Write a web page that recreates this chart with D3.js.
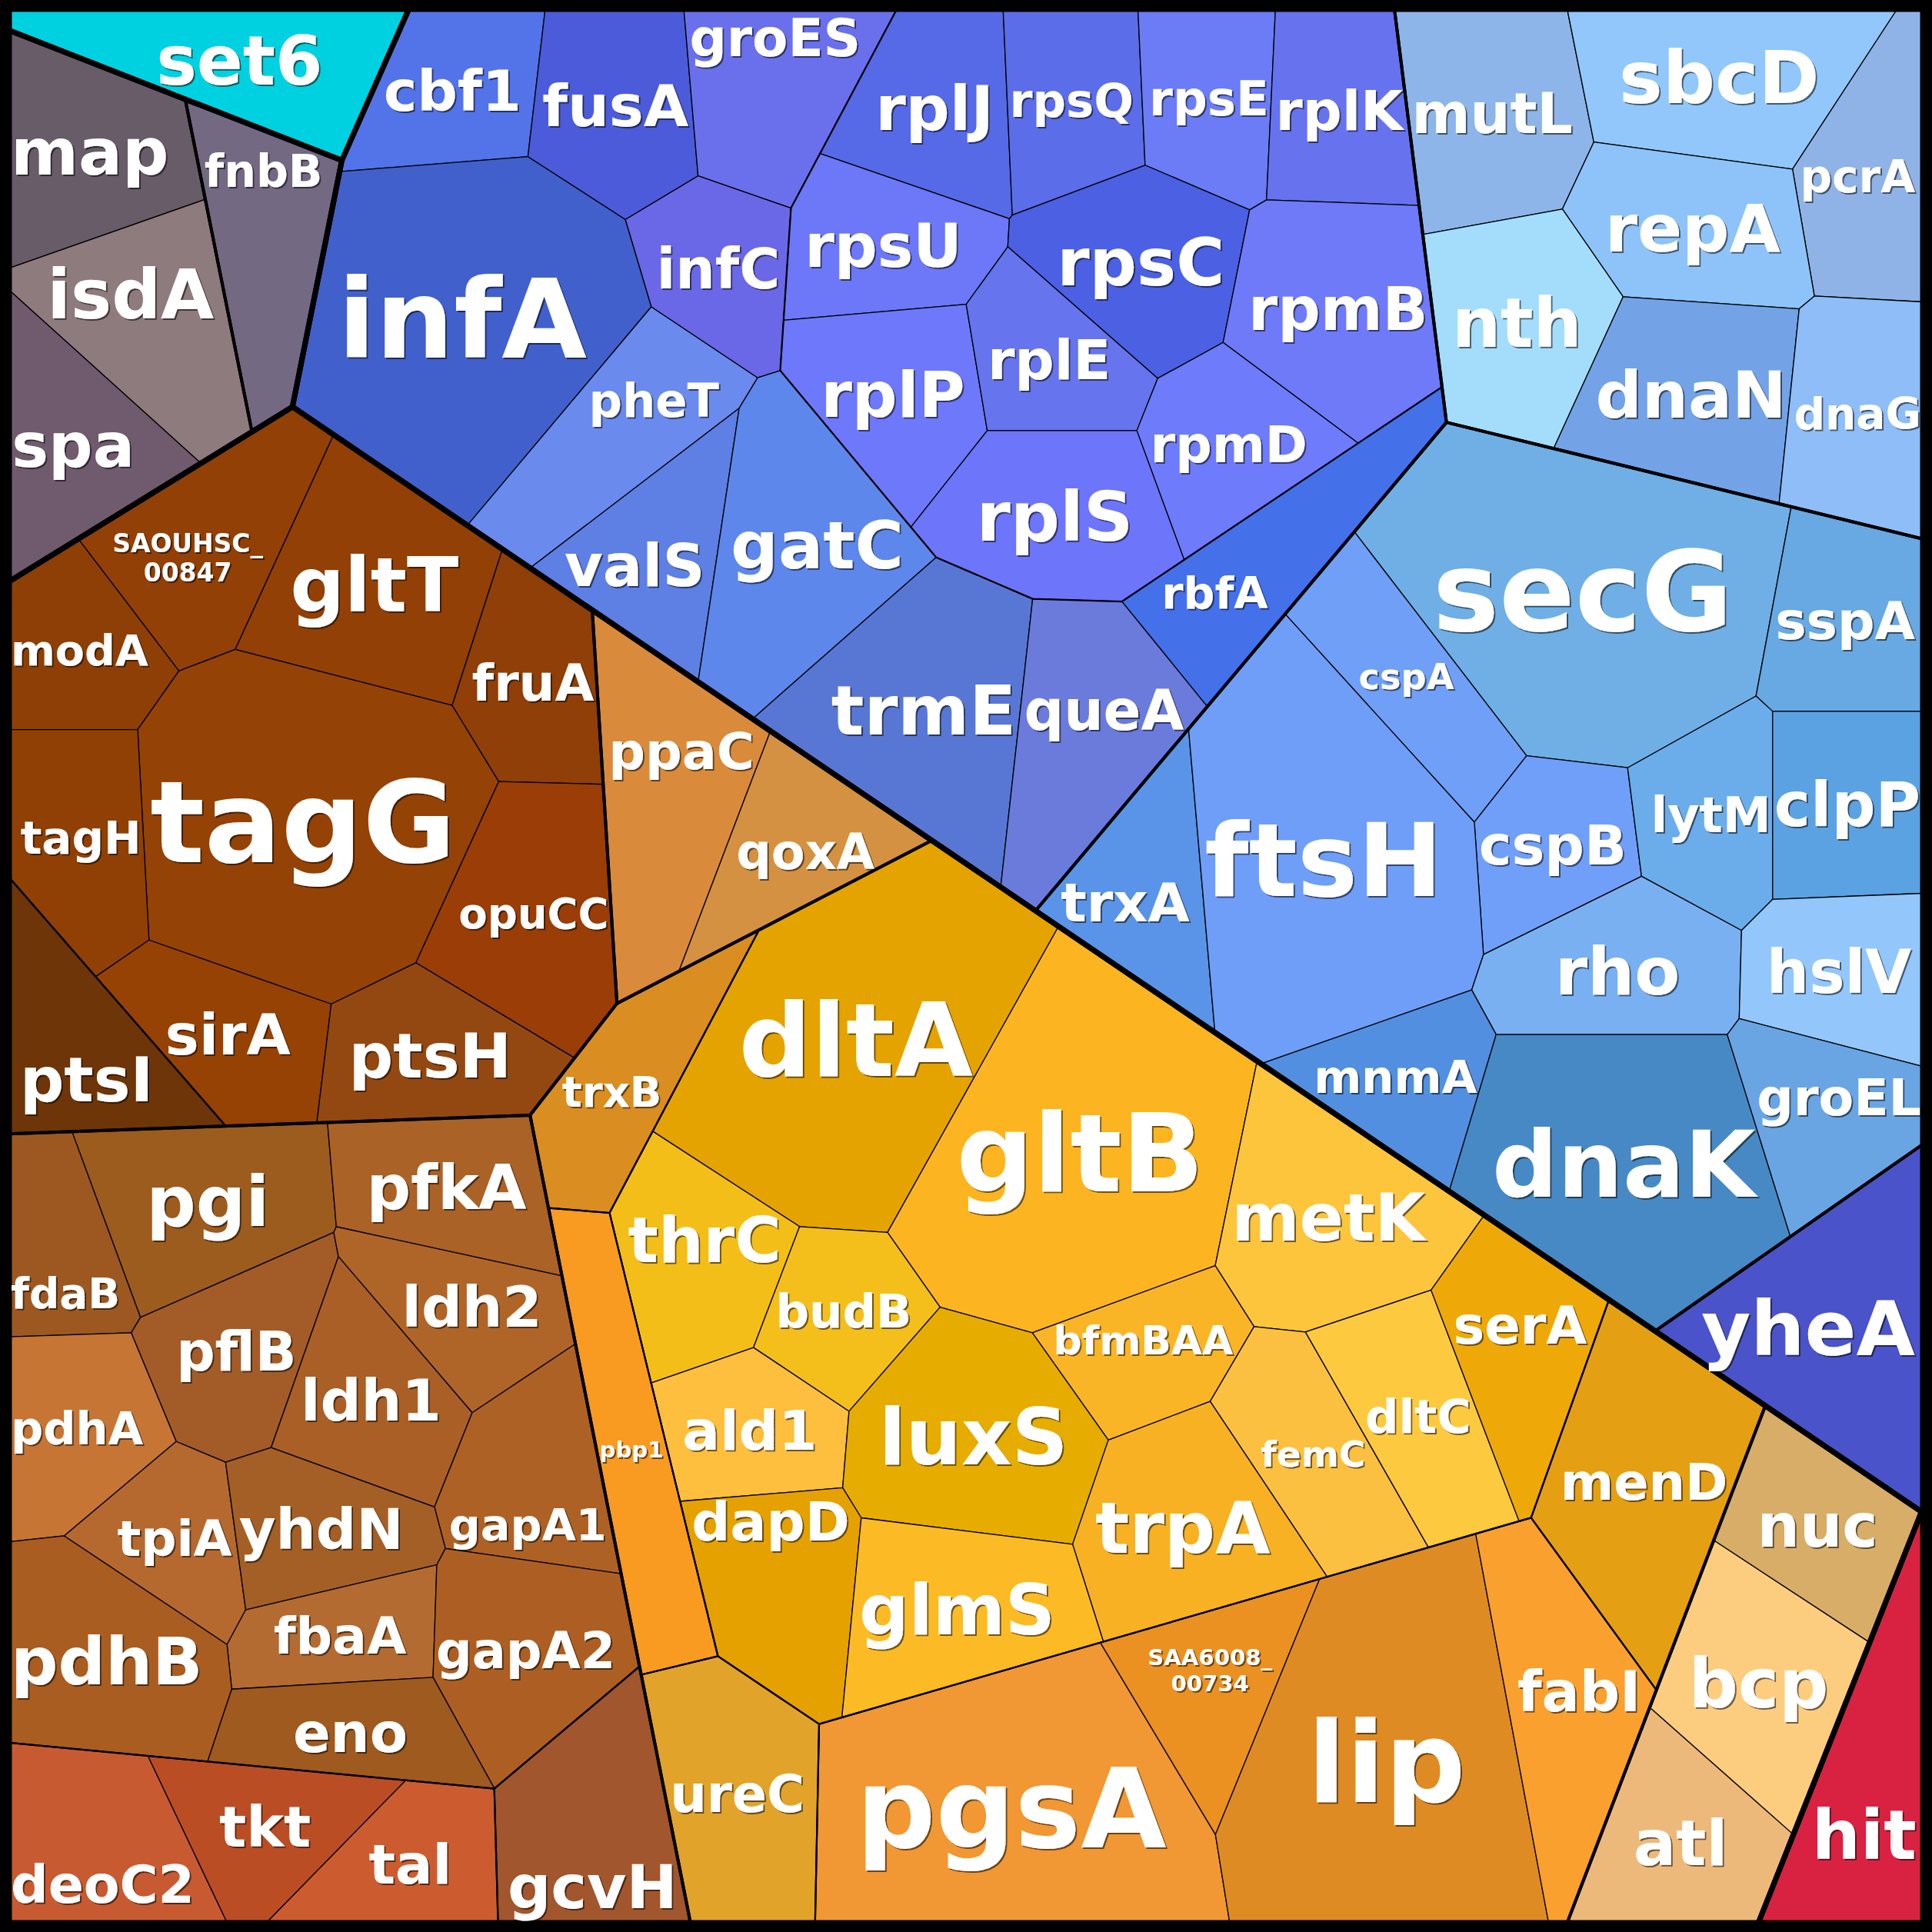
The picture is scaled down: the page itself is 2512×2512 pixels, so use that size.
<!DOCTYPE html>
<html lang="en">
<head>
<meta charset="utf-8">
<style>
  body { margin: 0; background: #fff; }
  text { font-family: "DejaVu Sans", sans-serif; font-weight: bold; }
</style>
</head>
<body>
<script src="https://d3js.org/d3.v7.min.js"></script>
<script>
var width = 2512, height = 2512;
var frame = 12;

// ---- data ----
var names = ["set6","map","fnbB","isdA","spa",
  "cbf1","fusA","groES","infC","infA",
  "rplJ","rpsQ","rpsE","rplK","rpsU","rpsC","rpmB","rplP","rplE","rpmD","rplS",
  "pheT","valS","gatC","trmE","queA","rbfA",
  "mutL","sbcD","pcrA","repA","nth","dnaN","dnaG",
  "secG","sspA","cspA","cspB","lytM","clpP","trxA","ftsH","rho","hslV","mnmA","dnaK","groEL",
  "yheA",
  "SAOUHSC_00847","gltT","modA","fruA","tagG","tagH","opuCC","ptsI","sirA","ptsH",
  "ppaC","qoxA",
  "pgi","pfkA","fdaB","pflB","ldh2","ldh1","pdhA","gapA1","tpiA","yhdN","fbaA","gapA2","pdhB","eno",
  "deoC2","tkt","tal","gcvH",
  "trxB","dltA","gltB","metK","thrC","budB","bfmBAA","ald1","luxS","dltC","serA","femC","trpA","dapD","glmS",
  "pbp1","ureC","pgsA","SAA6008_00734","lip","fabI","menD",
  "nuc","bcp","atl","hit"];

var parents = ["set6","gray/main","gray/fnbB","gray/main","gray/main",
  "blue/purple","blue/purple","blue/purple","blue/purple","blue/purple",
  "blue/purple/ribo","blue/purple/ribo","blue/purple/ribo","blue/purple/ribo","blue/purple/ribo","blue/purple/ribo",
  "blue/purple/ribo","blue/purple/ribo","blue/purple/ribo","blue/purple/ribo","blue/purple/ribo",
  "blue/purple","blue/purple","blue/purple","blue/purple","blue/purple","blue/purple",
  "blue/light","blue/light","blue/light","blue/light","blue/light","blue/light","blue/light",
  "blue/mid","blue/mid","blue/mid","blue/mid","blue/mid","blue/mid","blue/mid","blue/mid","blue/mid","blue/mid","blue/mid","blue/mid","blue/mid",
  "blue/yheA",
  "brown/dark/main","brown/dark/main","brown/dark/main","brown/dark/main","brown/dark/main","brown/dark/main","brown/dark/main",
  "brown/dark/ptsI","brown/dark/main","brown/dark/main",
  "brown/ppa","brown/ppa",
  "brown/lb/upper","brown/lb/upper","brown/lb/upper","brown/lb/upper","brown/lb/upper","brown/lb/upper","brown/lb/upper",
  "brown/lb/upper","brown/lb/upper","brown/lb/upper","brown/lb/upper","brown/lb/upper","brown/lb/upper","brown/lb/upper",
  "brown/lb/ppp","brown/lb/ppp","brown/lb/ppp","brown/lb/gcvH",
  "brown/orange/trxB","brown/orange/yellow","brown/orange/yellow","brown/orange/yellow","brown/orange/yellow","brown/orange/yellow",
  "brown/orange/yellow","brown/orange/yellow","brown/orange/yellow","brown/orange/yellow","brown/orange/yellow","brown/orange/yellow",
  "brown/orange/yellow","brown/orange/yellow","brown/orange/yellow",
  "brown/orange/pbp1","brown/orange/ureC","brown/orange/lower","brown/orange/lower","brown/orange/lower","brown/orange/lower","brown/orange/menD",
  "brown/misc","brown/misc","brown/misc","hit"];

var values = [22.1,20.6,18.6,22.6,18.3,
  16.4,18.8,18.8,14.8,57.9,
  18.1,16.0,15.3,17.2,17.3,20.9,25.8,19.2,14.6,16.8,22.8,
  20.1,16.6,29.4,32.8,24.3,20.2,
  23.8,25.7,18.3,20.8,22.3,23.8,19.5,
  64.8,18.7,17.4,15.2,16.1,18.2,16.8,59.3,20.9,17.1,15.3,46.1,16.8,
  32.3,
  21.5,27.6,15.1,16.5,61.9,18.4,24.7,18.2,17.2,18.4,
  25.9,16.0,
  23.0,18.3,13.2,17.6,15.4,17.6,17.1,17.7,13.1,15.3,12.5,21.9,24.8,14.6,
  20.1,15.3,14.7,22.7,
  17.1,59.9,60.9,28.0,19.2,14.0,14.4,14.7,29.3,18.2,18.5,17.8,24.2,19.9,23.1,
  21.0,24.1,58.7,16.2,61.1,24.5,31.7,
  17.1,22.9,19.1,22.3];

var colors = ["#00d1e0","#675c67","#736983","#8e7b7d","#705a6d",
  "#5373e9","#4b5bd9","#6a70ec","#6a68e6","#4160cb",
  "#5669e7","#5b6de9","#6b7cf6","#6772ee","#6c78f7","#4c60e3","#6e7af8","#6e78fb","#6674ee","#6e7bfa","#6d75fa",
  "#6a8aed","#5e7fe3","#5d87eb","#5877d5","#6a7bdc","#4470ea",
  "#8db5e9","#91c7fb","#8fb3e7","#8ec3f9","#a3ddfb","#73a2e7","#8ebdf7",
  "#6fafe5","#68a8e3","#6f9ff7","#709ff9","#6badea","#5ba2e3","#5994e8","#6f9ef8","#79b0f1","#93c7fb","#528fe0","#4789c5","#6aa5e3",
  "#4a53c9",
  "#924005","#924005","#8e3f05","#8f3f07","#944205","#904005","#9a3d07","#6e3508","#964205","#934812",
  "#d98a3b","#d49141",
  "#9b5c1e","#aa6227","#9d5821","#a35c27","#b06528","#a95f25","#c67535","#ae6124","#b5692f","#a35f25","#b46b31","#ad5f23","#a95d21","#9e5a1f",
  "#c85a31","#bb4d25","#cc5c2f","#a1562d",
  "#da8d21","#e5a300","#fcb520","#fdc53b","#f4be18","#f4be1b","#fab526","#fdbf3d","#e6ad00","#fdc93e","#eea909","#fcc040","#f7b122","#e5a100","#fcbb25",
  "#f99b21","#e2a32b","#f19733","#ea9121","#df8b23","#f9a02f","#e59f13",
  "#d7ad67","#fdcd7f","#edb97b","#d92241"];

// start sites of the layout, in 1568 px preview units of the reference
var seedX = [150,80,218,133,58,
  370,498,615,570,385,
  760,872,981,1088,720,922,1082,730,850,1000,850,
  480,545,645,755,890,1050,
  1210,1385,1515,1370,1240,1360,1505,
  1280,1495,1150,1258,1375,1495,925,1040,1310,1500,1110,1310,1470,
  1490,
  170,290,65,430,250,65,425,55,185,350,
  540,645,
  150,385,55,205,360,290,60,440,140,250,270,420,80,275,
  75,204,300,470,
  490,695,865,1085,575,680,920,620,800,1135,1240,1065,975,630,785,
  512,600,810,985,1120,1280,1330,
  1490,1410,1310,1515];
var seedY = [45,125,225,276,359,
  70,85,75,205,260,
  90,85,80,85,206,218,250,320,300,360,415,
  340,425,440,565,580,450,
  100,65,150,175,265,320,335,
  480,520,580,665,650,650,690,680,770,775,880,940,890,
  1075,
  450,505,530,550,660,670,740,819,845,865,
  650,690,
  975,955,1010,1100,1070,1130,1160,1190,1255,1240,1325,1330,1345,1410,
  1495,1420,1530,1485,
  900,850,945,990,1035,1075,1095,1165,1180,1140,1100,1180,1240,1285,1300,
  1170,1460,1470,1365,1420,1390,1200,
  1240,1362,1475,1450];

// group sites chosen so their bisectors run the way the reference boundaries do
var groupSeeds = {
  "set6": [170, 90], "gray": [91, 292], "blue": [1069, 488], "brown": [620, 1150], "hit": [1512, 1504],
  "blue/purple": [700, 280], "blue/light": [1367, 196], "blue/mid": [1236, 731], "blue/yheA": [1476, 1075],
  "brown/dark": [250, 680], "brown/ppa": [615, 657], "brown/orange": [881, 1171], "brown/lb": [272, 1292], "brown/misc": [1395, 1368],
  "brown/lb/upper": [230, 1160], "brown/lb/ppp": [197, 1509], "brown/lb/gcvH": [516, 1500],
  "brown/orange/yellow": [850, 1080], "brown/orange/menD": [1320, 1248], "brown/orange/lower": [972, 1501],
  "brown/orange/ureC": [573, 1493], "brown/orange/pbp1": [494, 1167], "brown/orange/trxB": [515, 903]
};

// ---- hierarchy ----
var toPx = d3.scaleLinear().domain([0, 1568]).range([0, width]);

var rootData = {name: "root", children: []};
names.forEach(function (n, i) {
  var node = rootData;
  parents[i].split("/").forEach(function (seg) {
    var c = node.children.find(function (d) { return d.name === seg && d.children; });
    if (!c) { c = {name: seg, children: []}; node.children.push(c); }
    node = c;
  });
  node.children.push({name: n, value: values[i], color: colors[i], sx: toPx(seedX[i]), sy: toPx(seedY[i])});
});

var root = d3.hierarchy(rootData).sum(function (d) { return d.value || 0; });
root.eachAfter(function (d) {
  if (!d.children) { d.sx = d.data.sx; d.sy = d.data.sy; return; }
  var path = d.ancestors().reverse().slice(1).map(function (a) { return a.data.name; }).join("/");
  if (groupSeeds[path]) {
    d.sx = toPx(groupSeeds[path][0]); d.sy = toPx(groupSeeds[path][1]);
    return;
  }
  d.sx = d3.sum(d.children, function (c) { return c.sx * c.value; }) / d.value;
  d.sy = d3.sum(d.children, function (c) { return c.sy * c.value; }) / d.value;
});

// ---- power diagram (weighted voronoi) ----
function clipHalf(poly, ax, ay, b) {
  var out = [], n = poly.length;
  for (var k = 0; k < n; k++) {
    var p = poly[k], q = poly[(k + 1) % n];
    var fp = ax * p[0] + ay * p[1] - b, fq = ax * q[0] + ay * q[1] - b;
    if (fp <= 0) out.push(p);
    if ((fp < 0 && fq > 0) || (fp > 0 && fq < 0)) {
      var t = fp / (fp - fq);
      out.push([p[0] + t * (q[0] - p[0]), p[1] + t * (q[1] - p[1])]);
    }
  }
  return out;
}

function powerCells(clip, sites) {
  return sites.map(function (si, i) {
    var poly = clip.slice();
    for (var j = 0; j < sites.length && poly.length > 2; j++) {
      if (j === i) continue;
      var sj = sites[j];
      var ax = 2 * (sj.x - si.x), ay = 2 * (sj.y - si.y);
      if (ax === 0 && ay === 0) continue;
      var b = (sj.x * sj.x + sj.y * sj.y - sj.w) - (si.x * si.x + si.y * si.y - si.w);
      poly = clipHalf(poly, ax, ay, b);
    }
    return poly;
  });
}

// sites stay put; only the weights move until every cell has its share of area
function layoutNode(node) {
  var kids = node.children;
  if (!kids) return;
  var clip = node.polygon;
  if (kids.length === 1) { kids[0].polygon = clip; layoutNode(kids[0]); return; }

  var total = Math.abs(d3.polygonArea(clip));
  var c0 = d3.polygonCentroid(clip);
  var sites = kids.map(function (k) {
    return {x: k.sx, y: k.sy, w: 0, target: total * k.value / node.value};
  });
  sites.forEach(function (s, i) {
    var t = 0;
    while (!d3.polygonContains(clip, [s.x, s.y]) && t < 40) {
      s.x = c0[0] + (s.x - c0[0]) * 0.9;
      s.y = c0[1] + (s.y - c0[1]) * 0.9;
      t++;
    }
    s.x += (i % 3) * 0.01; s.y += (i % 5) * 0.01;
  });

  for (var it = 0; it < 450; it++) {
    var cells = powerCells(clip, sites);
    sites.forEach(function (s, i) {
      var cell = cells[i];
      s.area = cell.length > 2 ? Math.abs(d3.polygonArea(cell)) : 0;
      var D = 0;
      for (var k = 0; k < cell.length && cell.length > 2; k++) {
        var p = cell[k], q = cell[(k + 1) % cell.length];
        var mx = (p[0] + q[0]) / 2, my = (p[1] + q[1]) / 2;
        var pi = (mx - s.x) * (mx - s.x) + (my - s.y) * (my - s.y) - s.w;
        var best = Infinity, bj = -1;
        for (var j = 0; j < sites.length; j++) {
          if (j === i) continue;
          var t = sites[j];
          var diff = Math.abs((mx - t.x) * (mx - t.x) + (my - t.y) * (my - t.y) - t.w - pi);
          if (diff < best) { best = diff; bj = j; }
        }
        if (bj >= 0 && best < 1) {
          var o = sites[bj];
          D += Math.hypot(q[0] - p[0], q[1] - p[1]) / (2 * Math.max(1, Math.hypot(o.x - s.x, o.y - s.y)));
        }
      }
      s.D = Math.max(D, 0.3);
    });
    sites.forEach(function (s) {
      var dw = 0.5 * (s.target - s.area) / s.D;
      dw = Math.max(-0.5 * s.target, Math.min(0.5 * s.target, dw));
      s.w += dw;
    });
  }
  var finalCells = powerCells(clip, sites);
  kids.forEach(function (k, i) { k.polygon = finalCells[i]; });
  kids.forEach(layoutNode);
}

root.polygon = [[frame, frame], [width - frame, frame], [width - frame, height - frame], [frame, height - frame]];
layoutNode(root);

// ---- drawing ----
var svg = d3.select("body").append("svg")
  .attr("width", width)
  .attr("height", height);

var shadow = svg.append("defs").append("filter")
  .attr("id", "shadow").attr("x", "-10%").attr("y", "-10%").attr("width", "120%").attr("height", "130%");
shadow.append("feDropShadow")
  .attr("dx", 2).attr("dy", 2).attr("stdDeviation", 0.6)
  .attr("flood-color", "#000").attr("flood-opacity", 0.55);

svg.append("rect")
  .attr("width", width).attr("height", height)
  .attr("fill", "#000");

var leaves = root.leaves().filter(function (d) { return d.polygon && d.polygon.length > 2; });
var line = function (poly) { return "M" + poly.join("L") + "Z"; };

svg.append("g").selectAll("path")
  .data(leaves)
  .enter().append("path")
  .attr("d", function (d) { return line(d.polygon); })
  .attr("fill", function (d) { return d.data.color; })
  .attr("stroke", "#000")
  .attr("stroke-width", 1.3)
  .attr("stroke-linejoin", "round");

var strokeByDepth = {1: 7, 2: 4, 3: 2.2};
var groupsDrawn = root.descendants().filter(function (d) { return d.children && d.depth > 0 && d.polygon && d.polygon.length > 2; })
  .sort(function (a, b) { return b.depth - a.depth; });

svg.append("g").selectAll("path")
  .data(groupsDrawn)
  .enter().append("path")
  .attr("d", function (d) { return line(d.polygon); })
  .attr("fill", "none")
  .attr("stroke", "#000")
  .attr("stroke-width", function (d) { return strokeByDepth[d.depth] || 2; })
  .attr("stroke-linejoin", "round");

svg.append("rect")
  .attr("x", frame / 2).attr("y", frame / 2)
  .attr("width", width - frame).attr("height", height - frame)
  .attr("fill", "none").attr("stroke", "#000").attr("stroke-width", frame);

// ---- labels ----
var ctx = document.createElement("canvas").getContext("2d");
ctx.font = "bold 100px 'DejaVu Sans'";
var lineGap = 1.15;

function labelLines(name) {
  var k = name.indexOf("_");
  return k > 0 ? [name.slice(0, k + 1), name.slice(k + 1)] : [name];
}

function fitSize(poly, cx, cy, lines, cap) {
  var wUnit = d3.max(lines, function (l) { return ctx.measureText(l).width; }) / 100;
  var hUnit = 0.74 + (lines.length - 1) * lineGap;
  var lo = 0, hi = cap;
  for (var k = 0; k < 18; k++) {
    var s = (lo + hi) / 2, hw = s * wUnit / 2 + 2, hh = s * hUnit / 2;
    var ok = [[cx - hw, cy - hh], [cx + hw, cy - hh], [cx + hw, cy + hh], [cx - hw, cy + hh]]
      .every(function (p) { return d3.polygonContains(poly, p); });
    if (ok) lo = s; else hi = s;
  }
  return lo;
}

leaves.forEach(function (d) {
  var poly = d.polygon;
  var area = Math.abs(d3.polygonArea(poly));
  var cap = 0.37 * Math.sqrt(area);
  var lines = labelLines(d.data.name);
  if (lines.length > 1) cap = Math.min(cap, 0.16 * Math.sqrt(area));
  var c = d3.polygonCentroid(poly);
  var s = fitSize(poly, c[0], c[1], lines, cap);
  var pos = c, best = s;
  if (s < 0.98 * cap) {
    var xs = d3.extent(poly, function (p) { return p[0]; }), ys = d3.extent(poly, function (p) { return p[1]; });
    for (var gx = 1; gx < 14; gx++) {
      for (var gy = 1; gy < 14; gy++) {
        var px = xs[0] + (xs[1] - xs[0]) * gx / 14, py = ys[0] + (ys[1] - ys[0]) * gy / 14;
        if (!d3.polygonContains(poly, [px, py])) continue;
        var t = fitSize(poly, px, py, lines, cap);
        // stay near the middle of the cell unless the room gained is large
        var score = t - 0.05 * Math.hypot(px - c[0], py - c[1]);
        if (score > best) { best = score; pos = [px, py]; }
      }
    }
    best = fitSize(poly, pos[0], pos[1], lines, cap);
    if (best < 1.12 * s) { pos = c; best = s; }
  }
  d.label = {x: pos[0], y: pos[1], size: best, lines: lines};
});

svg.append("g").selectAll("text")
  .data(leaves)
  .enter().append("text")
  .attr("transform", function (d) { return "translate(" + d.label.x + "," + d.label.y + ")"; })
  .attr("text-anchor", "middle")
  .attr("font-size", function (d) { return d.label.size; })
  .attr("fill", "#fff")
  .attr("filter", "url(#shadow)")
  .each(function (d) {
    var t = d3.select(this), n = d.label.lines.length;
    d.label.lines.forEach(function (l, i) {
      t.append("tspan")
        .attr("x", 0)
        .attr("y", ((i - (n - 1) / 2) * lineGap + 0.36) * d.label.size)
        .text(l);
    });
  });
</script>
</body>
</html>
